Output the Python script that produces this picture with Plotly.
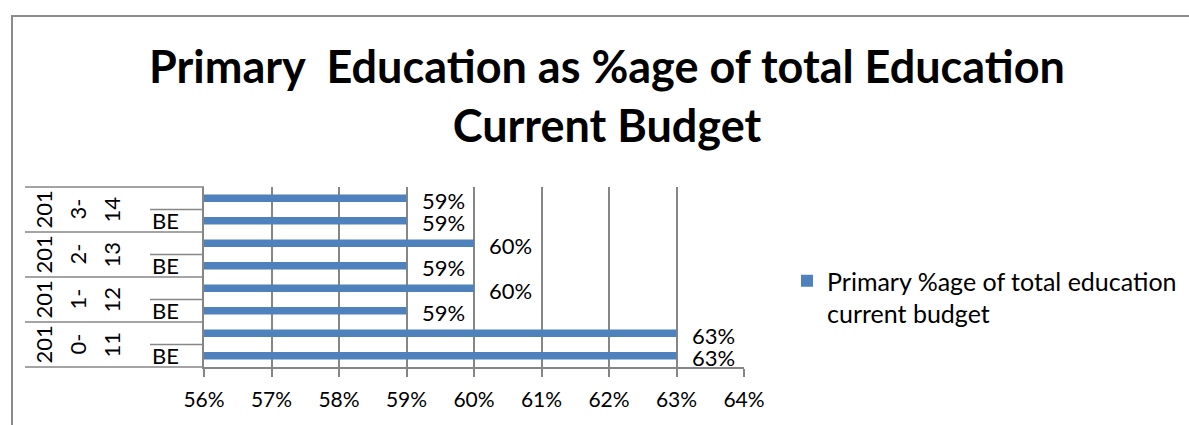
import plotly.graph_objects as go

# ---- data ----
years = ["2010-11", "2011-12", "2012-13", "2013-14"]
inner_labels = ["BE", ""]          # lower bar of each year is "BE", upper has no label
be_share = [0.63, 0.59, 0.59, 0.59]
other_share = [0.63, 0.60, 0.60, 0.59]
x_ticks = [0.56, 0.57, 0.58, 0.59, 0.60, 0.61, 0.62, 0.63, 0.64]
series_name = "Primary %age of total education<br>current budget"
title_text = "Primary\u00a0 Education as %age of total Education<br>Current Budget"

# ---- layout constants (pixels) ----
W, H = 1189, 425
L, R, T, B = 204, 445, 187, 58
PW = W - L - R
PH = H - T - B
FONT = "Lato"
GRID = "#868686"
BLUE = "#4F81BD"

def px_x(px):
    return (px - L) / PW

def px_y(py):
    return (H - B - py) / PH

cats, vals = [], []
for yr, be, ot in zip(years, be_share, other_share):
    for lvl, v in zip(inner_labels, [be, ot]):
        cats.append(f"{yr}|{lvl}")
        vals.append(v)

fig = go.Figure()
fig.add_trace(go.Bar(
    x=vals, y=cats, orientation="h",
    name=series_name,
    marker=dict(color=BLUE, line=dict(width=0)),
    hoverinfo="skip",
))

annotations = []
# data labels
for c, v in zip(cats, vals):
    annotations.append(dict(
        x=v, y=c, xref="x", yref="y", text=f"{v*100:.0f}%",
        showarrow=False, xanchor="left", xshift=13, yshift=-2,
        font=dict(family=FONT, size=22, color="#000"),
    ))

n_slots = len(cats)
shapes = []
# category labels and separators
for i, yr in enumerate(years):
    lo = 2 * i
    for j, lvl in enumerate(inner_labels):
        if lvl:
            annotations.append(dict(
                x=px_x(165), y=cats[lo + j], xref="paper", yref="y",
                text=lvl, showarrow=False, xanchor="center", yanchor="middle",
                font=dict(family=FONT, size=22, color="#000"),
            ))
    parts = [yr[:3], yr[3:5], yr[5:]]
    ymid = (lo + 1) / n_slots
    for k, p in enumerate(parts):
        annotations.append(dict(
            x=px_x(43 + 34 * k), y=ymid, xref="paper", yref="paper",
            text=p, showarrow=False, textangle=-90,
            xanchor="center", yanchor="middle",
            font=dict(family=FONT, size=22, color="#000"),
        ))
    shapes.append(dict(type="line", xref="paper", yref="paper",
                       x0=px_x(150), x1=0, y0=(lo + 1) / n_slots, y1=(lo + 1) / n_slots,
                       line=dict(color=GRID, width=1.5)))
for i in range(len(years) + 1):
    yy = 2 * i / n_slots
    shapes.append(dict(type="line", xref="paper", yref="paper",
                       x0=px_x(25), x1=0, y0=yy, y1=yy,
                       line=dict(color=GRID, width=1.5)))
# chart border
shapes.append(dict(type="rect", xref="paper", yref="paper",
                   x0=px_x(12), x1=px_x(W + 20), y0=px_y(H + 20), y1=px_y(16),
                   line=dict(color="#8c8c8c", width=2), fillcolor="rgba(0,0,0,0)",
                   layer="below"))

fig.update_layout(
    width=W, height=H,
    margin=dict(l=L, r=R, t=T, b=B, autoexpand=False),
    paper_bgcolor="white", plot_bgcolor="white",
    bargap=0.66,
    font=dict(family=FONT, color="#000"),
    title=dict(
        text=f"<b>{title_text}</b>",
        x=px_x(607), xref="paper", xanchor="center",
        y=1 - 83 / H, yref="container", yanchor="top",
        font=dict(family=FONT, size=45, color="#000"),
    ),
    xaxis=dict(
        range=[0.56, 0.64], tickvals=x_ticks, tickformat=".0%",
        showgrid=True, gridcolor=GRID, gridwidth=1.5,
        showline=True, linecolor=GRID, linewidth=1.5,
        ticks="outside", ticklen=8, tickcolor=GRID, tickwidth=1.5,
        tickfont=dict(family=FONT, size=21, color="#000"),
        ticklabelstandoff=5,
        zeroline=False, fixedrange=True,
    ),
    yaxis=dict(
        categoryorder="array", categoryarray=cats,
        showticklabels=False, ticks="",
        showgrid=False, showline=True, linecolor=GRID, linewidth=1.5,
        range=[-0.5, n_slots - 0.5], fixedrange=True,
    ),
    showlegend=True,
    legend=dict(
        x=px_x(787), y=px_y(258), xanchor="left", yanchor="top",
        valign="top", font=dict(family=FONT, size=25, color="#000"),
        bgcolor="rgba(0,0,0,0)", borderwidth=0,
    ),
    annotations=annotations,
    shapes=shapes,
)

fig.write_html("out.html")
